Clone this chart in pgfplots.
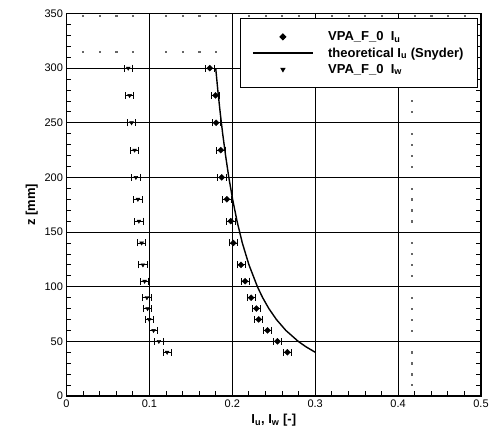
\documentclass[border=0pt]{standalone}
\usepackage{fontspec}
\setmainfont{Liberation Sans}
\usepackage{pgfplots}
\pgfplotsset{compat=1.18}

\pgfplotstableread{
x      z
0.1729 300
0.1797 275
0.1805 250
0.1861 225
0.1873 200
0.1934 180
0.1982 160
0.2014 140
0.2106 120
0.2155 105
0.2227 90
0.2291 80
0.2319 70
0.2424 60
0.2544 50
0.2665 40
}\iu
\pgfplotstableread{
x      z
0.0745 300
0.0761 275
0.0785 250
0.0821 225
0.0837 200
0.0861 180
0.0873 160
0.0906 140
0.0922 120
0.0942 105
0.0970 90
0.0978 80
0.0998 70
0.1050 60
0.1114 50
0.1214 40
}\iw
\pgfplotstableread{
x      z
0.1800 300
0.1825 280
0.1853 260
0.1884 240
0.1919 220
0.1958 200
0.2004 180
0.2057 160
0.2121 140
0.2201 120
0.2303 100
0.2366 90
0.2441 80
0.2532 70
0.2646 60
0.2795 50
0.2889 45
0.3001 40
}\snyder
% stray dots of the original plot
\pgfplotstableread{
x     z
0.02 348
0.04 348
0.06 348
0.08 348
0.12 348
0.14 348
0.16 348
0.18 348
0.22 348
0.24 348
0.26 348
0.28 348
0.32 348
0.34 348
0.36 348
0.38 348
0.42 348
0.44 348
0.46 348
0.48 348
0.02 315
0.04 315
0.06 315
0.08 315
0.12 315
0.14 315
0.16 315
0.18 315
0.22 315
0.24 315
0.416 10
0.416 20
0.416 30
0.416 40
0.416 60
0.416 70
0.416 80
0.416 90
0.416 110
0.416 120
0.416 130
0.416 140
0.416 160
0.416 170
0.416 180
0.416 190
0.416 210
0.416 220
0.416 230
0.416 240
0.416 260
0.416 270
}\straydots

\begin{document}
\begin{tikzpicture}
\begin{axis}[
    at={(0,0)}, anchor=south west,
    scale only axis,
    width=414.5pt, height=382.5pt,
    xmin=0, xmax=0.5, ymin=0, ymax=350,
    xtick={0,0.1,0.2,0.3,0.4,0.5},
    xticklabels={0,0.1,0.2,0.3,0.4,0.5},
    ytick={0,50,100,150,200,250,300,350},
    minor x tick num=4, minor y tick num=4,
    xtick pos=left,
    tick align=inside,
    major tick length=8pt, minor tick length=5pt,
    xmajorgrids, ymajorgrids,
    grid style={black, line width=0.8pt},
    axis line style={line width=1.5pt},
    tick style={black, line width=0.8pt},
    ticklabel style={font=\fontsize{11}{13}\selectfont},
    /pgf/number format/assume math mode=true,
    xlabel={\textbf{I\textsubscript{u}, I\textsubscript{w} [-]}},
    ylabel={\textbf{z [mm]}},
    label style={font=\fontsize{13}{15}\selectfont},
    legend image code/.code={
      \draw[mark repeat=2, mark phase=2, #1]
        plot coordinates {(0pt,0pt) (30pt,0pt) (60pt,0pt)};
    },
    legend style={
      at={(0.9928,0.988)}, anchor=north east,
      draw=black, line width=1pt, fill=white,
      font=\fontsize{13}{15}\selectfont\bfseries,
      inner xsep=12pt, inner ysep=11pt,
      row sep=1.5pt,
      cells={anchor=west, inner xsep=0.5pt, inner ysep=0.5pt},
    },
  ]
  \addplot[only marks, mark=square*, mark size=0.6pt, black!60, forget plot]
    table[x=x, y=z] {\straydots};
  \addplot[only marks, mark=square*, mark size=2.1pt, black,
      mark options={rotate=45},
      error bars/.cd, x dir=both, x fixed=0.005,
      error mark=|,
      error mark options={mark size=3.5pt, line width=0.8pt, rotate=0},
      error bar style={line width=0.8pt}]
    table[x=x, y=z] {\iu};
  \addlegendentry{\hspace*{12.5pt}VPA\_F\_0\ \ I\textsubscript{u}}
  \addplot[black, line width=1.4pt] table[x=x, y=z] {\snyder};
  \addlegendentry{\hspace*{12.5pt}theoretical I\textsubscript{u} (Snyder)}
  \addplot[only marks, mark=triangle*, mark size=2.2pt, black,
      mark options={rotate=180},
      error bars/.cd, x dir=both, x fixed=0.005,
      error mark=|,
      error mark options={mark size=3.5pt, line width=0.8pt, rotate=0},
      error bar style={line width=0.8pt}]
    table[x=x, y=z] {\iw};
  \addlegendentry{\hspace*{12.5pt}VPA\_F\_0\ \ I\textsubscript{w}}
\end{axis}
\pgfresetboundingbox
\path[use as bounding box] (-66.5pt,-37pt) rectangle (424.5pt,396pt);
\end{tikzpicture}
\end{document}
